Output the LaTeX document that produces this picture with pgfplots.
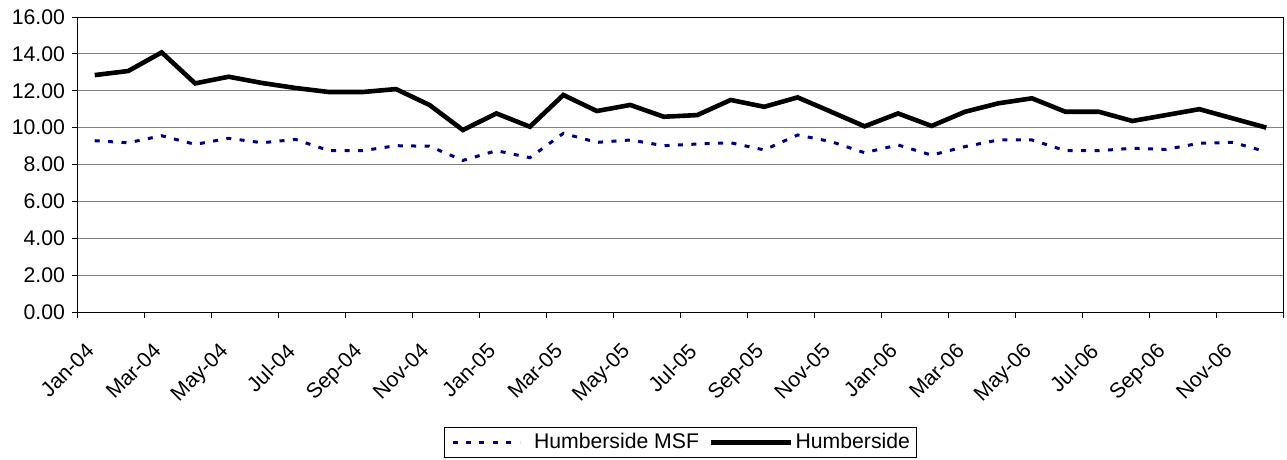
\documentclass[border=0pt]{standalone}
\usepackage{pgfplots}
\pgfplotsset{compat=1.18}
\usepackage{fontspec}
\setmainfont{Liberation Sans}
\definecolor{msfblue}{RGB}{0,0,128}
\definecolor{gridgray}{RGB}{128,128,128}
\pgfplotsset{
  legdash/.style={legend image code/.code={\draw[##1] (0bp,0bp) -- (33.5bp,0bp);}},
  legsolid/.style={legend image code/.code={\draw[##1] (0bp,0bp) -- (40bp,0bp);}},
}

\begin{document}
\begin{tikzpicture}
\path[use as bounding box] (-39bp,-74bp) rectangle (604.5bp,156bp);
\begin{axis}[
  at={(0,0)}, anchor=south west,
  scale only axis,
  width=602.5bp, height=147.5bp,
  xmin=-0.5, xmax=35.5,
  ymin=0, ymax=16,
  ytick={0,2,...,16},
  xtick={-0.5,1.5,...,35.5},
  xticklabels={},
  extra x ticks={0,2,...,34},
  extra x tick labels={Jan-04,Mar-04,May-04,Jul-04,Sep-04,Nov-04,Jan-05,Mar-05,May-05,Jul-05,Sep-05,Nov-05,Jan-06,Mar-06,May-06,Jul-06,Sep-06,Nov-06},
  % shifts act along the rotated label
  extra x tick style={major tick length=0pt, grid=none,
    xticklabel style={rotate=45, anchor=north east, xshift=-10.6bp, yshift=-3.5bp,
      font=\fontsize{10.6bp}{12bp}\selectfont}},
  tick align=outside,
  tick pos=left,
  major tick length=3bp,
  tick style={black, line width=0.5bp},
  axis line style={black, line width=0.5bp},
  ymajorgrids,
  grid style={gridgray, line width=0.5bp},
  ticklabel style={font=\fontsize{10.6bp}{12bp}\selectfont},
  /pgf/number format/assume math mode=true,
  yticklabel style={/pgf/number format/.cd, fixed, fixed zerofill, precision=2},
  legend columns=2,
  legend style={at={(0.5,-0.442)}, anchor=center, draw=black, line width=0.5bp,
    font=\fontsize{10.6bp}{12bp}\selectfont, inner xsep=3.5bp, inner ysep=2bp,
    nodes={inner xsep=0bp, inner ysep=1bp},
    /tikz/column 1/.style={column sep=6.5bp},
    /tikz/column 2/.style={column sep=5bp},
    /tikz/column 3/.style={column sep=1bp}},
]
% Humberside MSF
\addplot[msfblue, line width=1.5bp, dash pattern=on 2.5bp off 4.2bp, legdash] coordinates {
(0,9.29) (1,9.18) (2,9.56) (3,9.09) (4,9.42) (5,9.18) (6,9.36) (7,8.75) (8,8.75) (9,9.02) (10,8.99) (11,8.22)
(12,8.75) (13,8.37) (14,9.69) (15,9.20) (16,9.33) (17,9.02) (18,9.11) (19,9.18) (20,8.79) (21,9.60) (22,9.24) (23,8.64)
(24,9.06) (25,8.51) (26,8.97) (27,9.33) (28,9.33) (29,8.75) (30,8.75) (31,8.88) (32,8.82) (33,9.15) (34,9.20) (35,8.69)
};
\addlegendentry{Humberside MSF}
% Humberside
\addplot[black, line width=2.3bp, legsolid] coordinates {
(0,12.85) (1,13.07) (2,14.08) (3,12.40) (4,12.76) (5,12.42) (6,12.15) (7,11.93) (8,11.93) (9,12.09) (10,11.23) (11,9.87)
(12,10.77) (13,10.05) (14,11.77) (15,10.90) (16,11.23) (17,10.59) (18,10.68) (19,11.50) (20,11.13) (21,11.64) (22,10.86) (23,10.07)
(24,10.77) (25,10.09) (26,10.86) (27,11.32) (28,11.59) (29,10.86) (30,10.86) (31,10.36) (32,10.68) (33,11.00) (34,10.50) (35,10.00)
};
\addlegendentry{Humberside}
\end{axis}
\end{tikzpicture}
\end{document}
